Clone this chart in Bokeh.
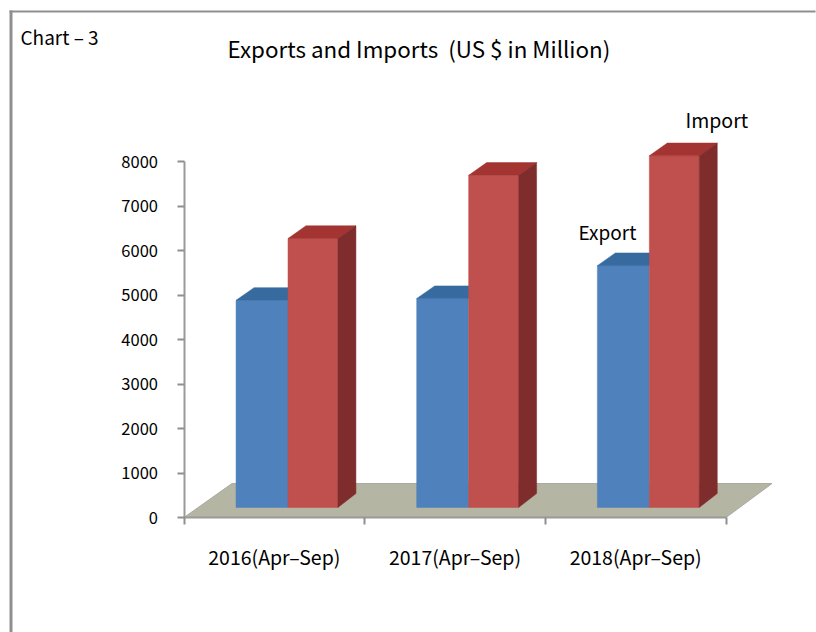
from bokeh.plotting import figure
from bokeh.models import Range1d, FixedTicker, Label, BoxAnnotation
from bokeh.embed import file_html
from bokeh.resources import INLINE

categories = ["2016(Apr–Sep)", "2017(Apr–Sep)", "2018(Apr–Sep)"]
exports = [4880, 4920, 5660]
imports = [6270, 7690, 8130]
y_ticks = [0, 1000, 2000, 3000, 4000, 5000, 6000, 7000, 8000]

FONT = "Noto Sans CJK JP"
DX, DY = 0.0996, 285          # oblique depth of the bars
BASE = 225                    # bars stand on the floor, above the axis line
BLUE = ("#4f81bd", "#376a9e")
RED = ("#c0504d", "#a33431", "#7f2c2c")
W, H = 816, 632

p = figure(width=W, height=H, output_backend="svg", toolbar_location=None,
           x_range=Range1d(-1.0157, 3.5009), y_range=Range1d(-2584, 11618),
           min_border_left=0, min_border_right=0, min_border_top=0, min_border_bottom=0,
           background_fill_color="white", border_fill_color="white")
p.outline_line_color = None
p.grid.visible = False

# floor
p.patch([0, 0.2657, 3.2546, 3], [0, 764, 764, 0], fill_color="#b4b5a3", line_color="#a9aba0", line_width=1)


def bar(i, x0, x1, value, col):
    left, right = i + x0, i + x1
    p.quad(left=[left], right=[right], bottom=[BASE], top=[value],
           fill_color=col[0], line_color=col[0], line_width=0.5)
    p.patch([left, left + DX, right + DX, right], [value, value + DY, value + DY, value],
            fill_color=col[1], line_color=col[1], line_width=0.5)
    if len(col) > 2:
        p.patch([right, right + DX, right + DX, right], [value, value + DY, BASE + 315, BASE],
                fill_color=col[2], line_color=col[2], line_width=0.5)


for i, (e, m) in enumerate(zip(exports, imports)):
    bar(i, 0.288, 0.5756, e, BLUE)
    bar(i, 0.5756, 0.852, m, RED)

# axes
ax = p.xaxis[0]
ax.fixed_location = 0
ax.bounds = (0, 3)
ax.ticker = FixedTicker(ticks=[0.5, 1.5, 2.5], minor_ticks=[0, 1, 2, 3])
ax.major_label_overrides = {i + 0.5: c for i, c in enumerate(categories)}
ax.major_tick_line_color = None
ax.minor_tick_in = 0
ax.minor_tick_out = 7
ax.minor_tick_line_color = "#8f8f8f"
ax.minor_tick_line_width = 2
ax.axis_line_color = "#9a9a9a"
ax.axis_line_width = 2
ax.major_label_standoff = 17
ax.major_label_text_font = FONT
ax.major_label_text_font_size = "19.5px"
ax.major_label_text_color = "black"

ay = p.yaxis[0]
ay.fixed_location = 0
ay.bounds = (0, 8000)
ay.ticker = FixedTicker(ticks=y_ticks)
ay.minor_tick_line_color = None
ay.major_tick_in = 0
ay.major_tick_out = 7
ay.major_tick_line_color = "#8f8f8f"
ay.major_tick_line_width = 2
ay.axis_line_color = "#9a9a9a"
ay.axis_line_width = 2
ay.major_label_standoff = 19
ay.major_label_text_font = FONT
ay.major_label_text_font_size = "16.5px"
ay.major_label_text_color = "black"


def screen_label(text, x, y, size):
    p.add_layout(Label(x=x - 1, y=H - y, x_units="screen", y_units="screen", text=text,
                       text_font=FONT, text_font_size=size, text_color="black",
                       text_baseline="middle", text_align="left"))


screen_label("Chart – 3", 21, 36, "19px")
screen_label("Exports and Imports\u00a0\u00a0(US $ in Million)", 228, 47, "22.4px")
screen_label("Export", 579, 231, "19px")
screen_label("Import", 686, 119, "19.5px")


def border(x0, x1, y0, y1):
    p.add_layout(BoxAnnotation(left=x0 - 1, right=x1 - 1, top=H - y0, bottom=H - y1,
                               left_units="screen", right_units="screen", top_units="screen",
                               bottom_units="screen", fill_color="#8f8f8f", fill_alpha=1, line_color=None))


border(10, W, 10, 12)
border(10, 13, 10, H)

open("out.html", "w").write(file_html(p, INLINE))
